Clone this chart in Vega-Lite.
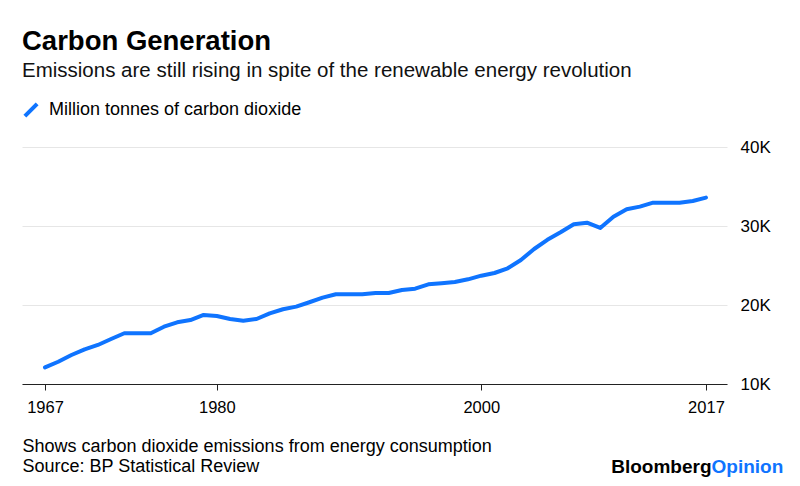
{
  "$schema": "https://vega.github.io/schema/vega-lite/v6.json",
  "width": 705,
  "height": 237,
  "autosize": {"type": "none"},
  "padding": {"left": 22, "top": 147, "right": 73, "bottom": 102},
  "background": "white",
  "config": {"font": "Liberation Sans", "view": {"stroke": null}},
  "title": {
    "text": "Carbon Generation",
    "subtitle": "Emissions are still rising in spite of the renewable energy revolution",
    "anchor": "start",
    "frame": "group",
    "font": "Liberation Sans",
    "fontSize": 27.5,
    "fontWeight": "bold",
    "color": "#000000",
    "subtitleFont": "Liberation Sans",
    "subtitleFontSize": 20.5,
    "subtitleColor": "#111111",
    "subtitlePadding": 5,
    "offset": 0,
    "dy": -20
  },
  "data": {
    "values": [
      {"year": 1967, "co2": 12100}, {"year": 1968, "co2": 12820}, {"year": 1969, "co2": 13670},
      {"year": 1970, "co2": 14390}, {"year": 1971, "co2": 14940}, {"year": 1972, "co2": 15700},
      {"year": 1973, "co2": 16420}, {"year": 1974, "co2": 16420}, {"year": 1975, "co2": 16420},
      {"year": 1976, "co2": 17250}, {"year": 1977, "co2": 17810}, {"year": 1978, "co2": 18100},
      {"year": 1979, "co2": 18740}, {"year": 1980, "co2": 18610}, {"year": 1981, "co2": 18230},
      {"year": 1982, "co2": 18010}, {"year": 1983, "co2": 18230}, {"year": 1984, "co2": 18950},
      {"year": 1985, "co2": 19460}, {"year": 1986, "co2": 19790}, {"year": 1987, "co2": 20350},
      {"year": 1988, "co2": 20930}, {"year": 1989, "co2": 21360}, {"year": 1990, "co2": 21360},
      {"year": 1991, "co2": 21360}, {"year": 1992, "co2": 21520}, {"year": 1993, "co2": 21520},
      {"year": 1994, "co2": 21900}, {"year": 1995, "co2": 22070}, {"year": 1996, "co2": 22620},
      {"year": 1997, "co2": 22750}, {"year": 1998, "co2": 22910}, {"year": 1999, "co2": 23250},
      {"year": 2000, "co2": 23710}, {"year": 2001, "co2": 24050}, {"year": 2002, "co2": 24650},
      {"year": 2003, "co2": 25700}, {"year": 2004, "co2": 27090}, {"year": 2005, "co2": 28250},
      {"year": 2006, "co2": 29200}, {"year": 2007, "co2": 30220}, {"year": 2008, "co2": 30420},
      {"year": 2009, "co2": 29750}, {"year": 2010, "co2": 31180}, {"year": 2011, "co2": 32110},
      {"year": 2012, "co2": 32450}, {"year": 2013, "co2": 32950}, {"year": 2014, "co2": 32950},
      {"year": 2015, "co2": 32950}, {"year": 2016, "co2": 33170}, {"year": 2017, "co2": 33590}
    ]
  },
  "layer": [
    {
      "mark": {"type": "line", "strokeWidth": 4, "strokeCap": "round", "strokeJoin": "round"},
      "encoding": {
        "x": {
          "field": "year",
          "type": "quantitative",
          "scale": {"domain": [1965.26, 2018.59], "nice": false, "zero": false},
          "axis": {
            "values": [1967, 1980, 2000, 2017],
            "format": "d",
            "grid": false,
            "domain": true,
            "domainColor": "#222222",
            "domainWidth": 1.2,
            "ticks": true,
            "tickSize": 6,
            "tickColor": "#222222",
            "tickWidth": 1,
            "labelFontSize": 16.5,
            "labelColor": "#000000",
            "labelPadding": 9,
            "labelFlush": false,
            "labelOverlap": false,
            "title": ["Shows carbon dioxide emissions from energy consumption", "Source: BP Statistical Review"],
            "titleFontSize": 18,
            "titleFontWeight": "normal",
            "titleColor": "#000000",
            "titleAlign": "left",
            "titleAnchor": "start",
            "titleBaseline": "alphabetic",
            "titleLineHeight": 20,
            "titleX": 0,
            "titleY": 67
          }
        },
        "y": {
          "field": "co2",
          "type": "quantitative",
          "scale": {"domain": [10000, 40000], "nice": false, "zero": false},
          "axis": {
            "orient": "right",
            "values": [10000, 20000, 30000, 40000],
            "labelExpr": "datum.value / 1000 + 'K'",
            "domain": false,
            "ticks": false,
            "grid": true,
            "gridColor": "#e6e6e6",
            "gridWidth": 1,
            "labelFontSize": 17,
            "labelColor": "#000000",
            "labelPadding": 13,
            "labelBaseline": "middle",
            "labelFlush": false,
            "title": "Bloomberg",
            "titleAngle": 0,
            "titleFontSize": 19,
            "titleFontWeight": "bold",
            "titleColor": "#000000",
            "titleAlign": "right",
            "titleBaseline": "alphabetic",
            "titleX": -16,
            "titleY": 325
          }
        },
        "color": {
          "datum": "Million tonnes of carbon dioxide",
          "type": "nominal",
          "scale": {"range": ["#0f74ff"]},
          "legend": {
            "orient": "none",
            "legendX": 0,
            "legendY": -46,
            "title": null,
            "padding": 0,
            "symbolType": "M-1,1L1,-1",
            "symbolSize": 150,
            "symbolStrokeWidth": 4,
            "labelFontSize": 18,
            "labelColor": "#000000",
            "labelOffset": 9,
            "labelLimit": 400
          }
        }
      }
    },
    {
      "data": {"values": [{"ref": 10000}]},
      "mark": {"type": "rule", "opacity": 0},
      "encoding": {
        "y": {
          "field": "ref",
          "type": "quantitative",
          "axis": {
            "orient": "left",
            "labels": false,
            "ticks": false,
            "domain": false,
            "grid": false,
            "title": "Opinion",
            "titleAngle": 0,
            "titleFontSize": 19,
            "titleFontWeight": "bold",
            "titleColor": "#0f74ff",
            "titleAlign": "left",
            "titleBaseline": "alphabetic",
            "titleX": 689,
            "titleY": 325
          }
        }
      }
    }
  ],
  "resolve": {"axis": {"y": "independent"}}
}
